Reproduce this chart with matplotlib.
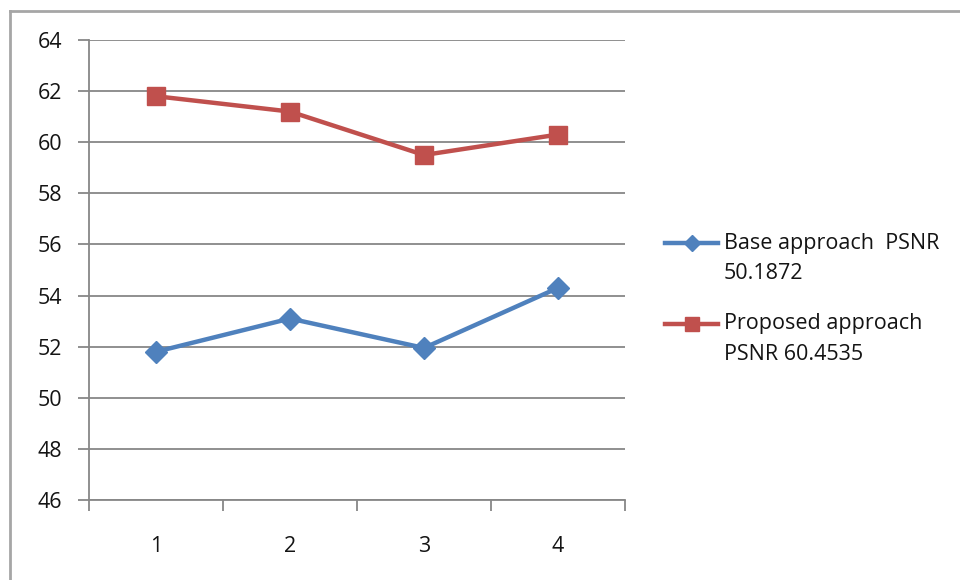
import matplotlib
matplotlib.use("Agg")
import matplotlib.pyplot as plt
from matplotlib.lines import Line2D

plt.rcParams['font.family'] = ['Open Sans', 'DejaVu Sans']
plt.rcParams['font.weight'] = 'medium'

# Data
categories = [1, 2, 3, 4]
base_psnr = [51.8, 53.1, 51.95, 54.3]
proposed_psnr = [61.8, 61.2, 59.5, 60.3]
base_label = ["Base approach  PSNR", "50.1872"]
proposed_label = ["Proposed approach", "PSNR 60.4535"]
y_ticks = [46, 48, 50, 52, 54, 56, 58, 60, 62, 64]

BLUE = "#4F81BD"
RED = "#C0504D"
GRID = "#878787"
TEXT = "#141414"
FS = 15.5

W, H = 960, 580
fig = plt.figure(figsize=(W / 100, H / 100), dpi=100)
fig.patch.set_facecolor("white")

ax = fig.add_axes([89 / W, 1 - 500 / H, (625 - 89) / W, (500 - 40) / H])

x = list(range(len(categories)))
ax.plot(x, base_psnr, color=BLUE, lw=3.2, marker="D", ms=11,
        markeredgecolor=BLUE, markerfacecolor=BLUE, solid_joinstyle="miter", zorder=3)
ax.plot(x, proposed_psnr, color=RED, lw=3.2, marker="s", ms=13.5,
        markeredgecolor=RED, markerfacecolor=RED, solid_joinstyle="miter", zorder=3)

ax.set_xlim(-0.5, len(categories) - 0.5)
ax.set_ylim(y_ticks[0], y_ticks[-1])
ax.set_yticks(y_ticks)
ax.set_yticklabels([str(v) for v in y_ticks])

# category boundaries carry the ticks, labels sit between them
ax.set_xticks([i - 0.5 for i in range(len(categories) + 1)])
ax.set_xticklabels([])
ax.set_xticks(x, minor=True)
ax.set_xticklabels([str(c) for c in categories], minor=True)
ax.tick_params(axis="x", which="minor", length=0, pad=26, labelsize=FS, labelcolor=TEXT)
ax.tick_params(axis="x", which="major", length=8, width=1.3, color=GRID, direction="out")
ax.tick_params(axis="y", length=8, width=1.3, color=GRID, direction="out",
               pad=11.5, labelsize=FS, labelcolor=TEXT)

ax.grid(axis="y", color=GRID, lw=1.3, zorder=0)
ax.set_axisbelow(True)
for side in ("top", "right"):
    ax.spines[side].set_visible(False)
for side in ("left", "bottom"):
    ax.spines[side].set_color(GRID)
    ax.spines[side].set_linewidth(1.3)

# legend drawn beside the plot
def legend_entry(y_px, color, marker, ms, lines):
    yf = 1 - y_px / H
    fig.add_artist(Line2D([665 / W, 718 / W], [yf, yf], color=color, lw=3.2,
                          transform=fig.transFigure))
    fig.add_artist(Line2D([692 / W], [yf], color=color, marker=marker, ms=ms,
                          markeredgecolor=color, transform=fig.transFigure))
    for i, t in enumerate(lines):
        fig.text(724 / W, 1 - (y_px + i * 31) / H, t, fontsize=FS, color=TEXT,
                 ha="left", va="center")

legend_entry(243, BLUE, "D", 8.5, base_label)
legend_entry(324, RED, "s", 10.5, proposed_label)

# chart frame
fig.add_artist(Line2D([9.5 / W, 1.0], [1 - 10.5 / H, 1 - 10.5 / H], color="#a6a6a6",
                      lw=2, transform=fig.transFigure))
fig.add_artist(Line2D([9.5 / W, 9.5 / W], [0.0, 1 - 10.5 / H], color="#a6a6a6",
                      lw=2, transform=fig.transFigure))

fig.savefig("out.png", dpi=100, facecolor="white")
